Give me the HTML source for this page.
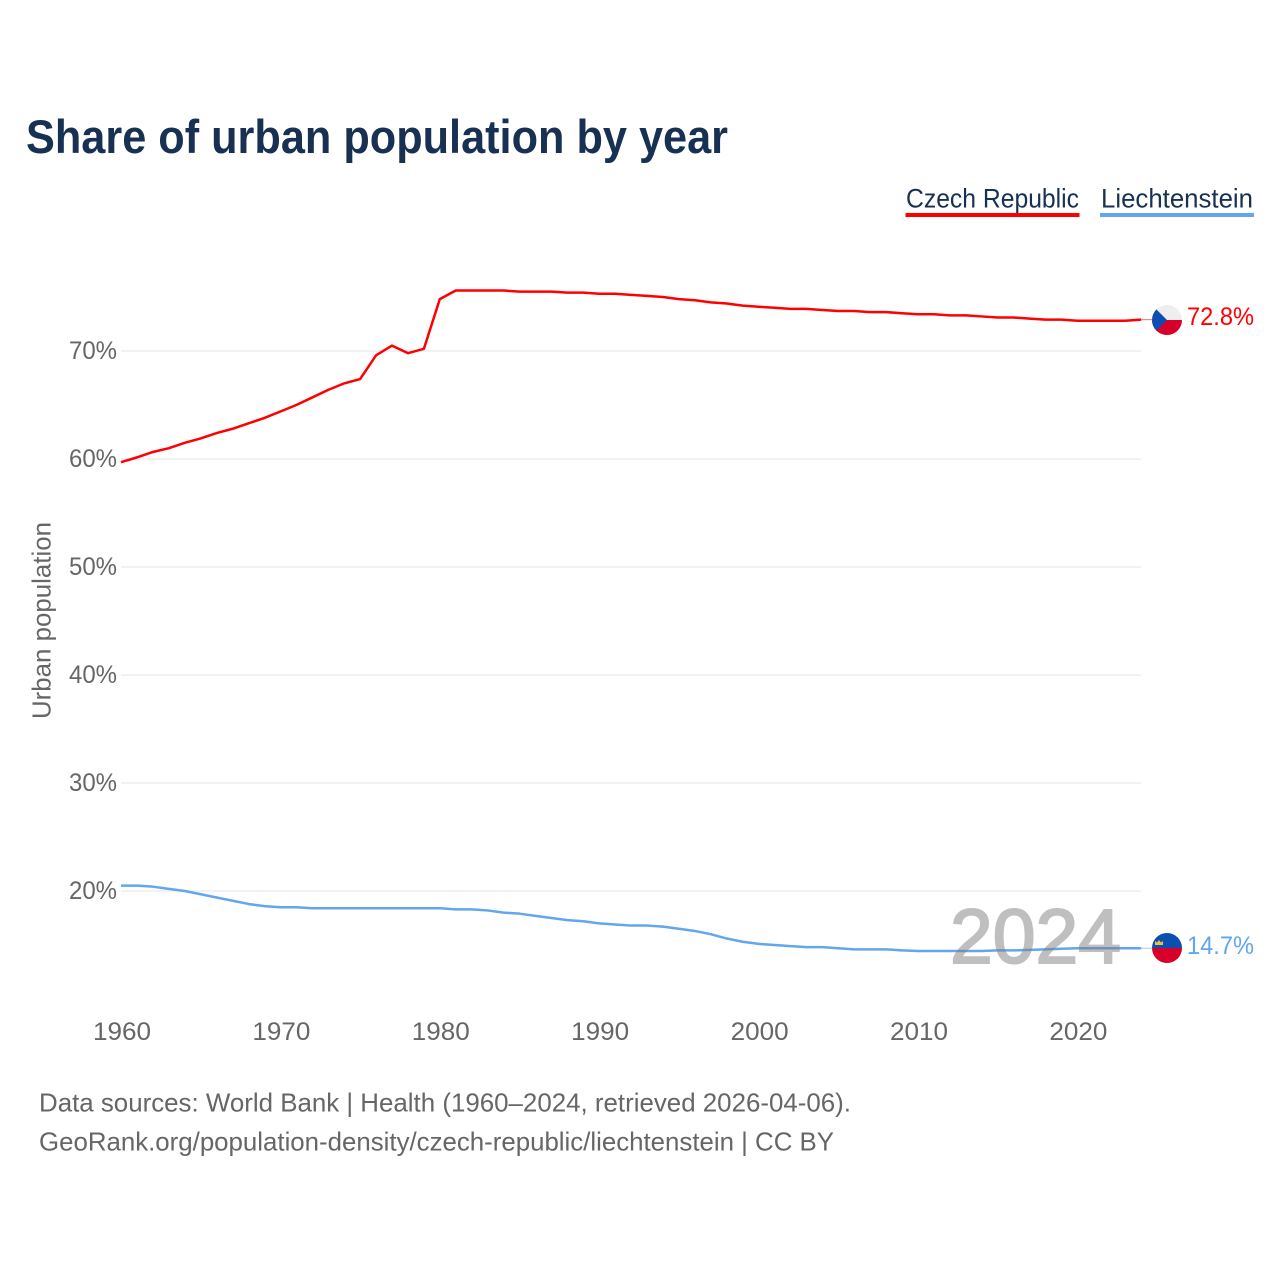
<!DOCTYPE html>
<html lang="en">
<head>
<meta charset="utf-8">
<title>Share of urban population by year</title>
<style>
html,body{margin:0;padding:0;background:#fff;width:1280px;height:1280px;overflow:hidden}
svg{display:block}
text{font-family:"Liberation Sans",sans-serif}
</style>
</head>
<body>
<svg id="chart" xmlns="http://www.w3.org/2000/svg" width="1280" height="1280" viewBox="0 0 1280 1280">
  <defs>
    <clipPath id="clip-cz"><circle cx="1167" cy="320" r="15"/></clipPath>
    <clipPath id="clip-li"><circle cx="1167" cy="948" r="15"/></clipPath>
  </defs>
  <text x="26" y="153" font-size="47" font-weight="700" fill="#183153" textLength="702" lengthAdjust="spacingAndGlyphs">Share of urban population by year</text>

  <g>
    <text x="906" y="207.500" font-size="27" fill="#183153" textLength="173" lengthAdjust="spacingAndGlyphs">Czech Republic</text>
    <rect x="905.5" y="213" width="174" height="4" fill="#ff0000"/>
  </g>
  <g>
    <text x="1101" y="207.500" font-size="27" fill="#183153" textLength="152" lengthAdjust="spacingAndGlyphs">Liechtenstein</text>
    <rect x="1100" y="213" width="154" height="4" fill="#62a6ee"/>
  </g>

  <text transform="translate(50.500,719) rotate(-90)" x="0" y="0" font-size="26" fill="#666666" textLength="197" lengthAdjust="spacingAndGlyphs">Urban population</text>

  <g id="grid"></g>
  <g id="y-ticks"></g>
  <g id="x-ticks"></g>
  <g id="series"></g>

  <text x="950" y="963" font-size="77" fill="#808080" stroke="#808080" stroke-width="2" opacity="0.5" textLength="171" lengthAdjust="spacingAndGlyphs">2024</text>

  <g clip-path="url(#clip-cz)">
    <rect x="1152" y="305" width="30" height="15" fill="#eeeeee"/>
    <rect x="1152" y="320" width="30" height="15" fill="#d7002a"/>
    <polygon points="1152,305 1167,320 1152,335" fill="#0b4fb3"/>
  </g>
  <g clip-path="url(#clip-li)">
    <rect x="1152" y="933" width="30" height="15" fill="#0b4fb3"/>
    <rect x="1152" y="948" width="30" height="15" fill="#d7002a"/>
    <path d="M1155 945v-4l2 1.500 2-2.500 2 2.500 2-1.500v4z" fill="#f2c230"/>
  </g>
  <text id="label-cz" x="1187" y="325" font-size="25" fill="#ff0000" textLength="67" lengthAdjust="spacingAndGlyphs"></text>
  <text id="label-li" x="1187" y="954" font-size="25" fill="#62a6ee" textLength="67" lengthAdjust="spacingAndGlyphs"></text>

  <text x="39" y="1111.500" font-size="26" fill="#666666" textLength="812" lengthAdjust="spacingAndGlyphs">Data sources: World Bank | Health (1960–2024, retrieved 2026-04-06).</text>
  <text x="39" y="1150.500" font-size="26" fill="#666666" textLength="795" lengthAdjust="spacingAndGlyphs">GeoRank.org/population-density/czech-republic/liechtenstein | CC BY</text>
</svg>
<script>
const firstYear = 1960;
const czechRepublic = [59.7,60.15,60.65,61.0,61.5,61.9,62.4,62.8,63.3,63.8,64.4,65.0,65.7,66.4,67.0,67.4,69.6,70.5,69.8,70.2,74.8,75.6,75.6,75.6,75.6,75.5,75.5,75.5,75.4,75.4,75.3,75.3,75.2,75.1,75.0,74.8,74.7,74.5,74.4,74.2,74.1,74.0,73.9,73.9,73.8,73.7,73.7,73.6,73.6,73.5,73.4,73.4,73.3,73.3,73.2,73.1,73.1,73.0,72.9,72.9,72.8,72.8,72.8,72.8,72.9];
const liechtenstein = [20.5,20.5,20.4,20.2,20.0,19.7,19.4,19.1,18.8,18.6,18.5,18.5,18.4,18.4,18.4,18.4,18.4,18.4,18.4,18.4,18.4,18.3,18.3,18.2,18.0,17.9,17.7,17.5,17.3,17.2,17.0,16.9,16.8,16.8,16.7,16.5,16.3,16.0,15.6,15.3,15.1,15.0,14.9,14.8,14.8,14.7,14.6,14.6,14.6,14.5,14.45,14.45,14.45,14.45,14.45,14.5,14.5,14.55,14.6,14.65,14.7,14.7,14.7,14.7,14.7];
const yTickValues = [20,30,40,50,60,70];
const xTickYears = [1960,1970,1980,1990,2000,2010,2020];
const endLabelCzech = "72.8%";
const endLabelLiechtenstein = "14.7%";

const NS = "http://www.w3.org/2000/svg";
function xScale(year){ return 121 + (year - 1960) * 15.94; }
function yScale(v){ return 891 - (v - 20) * 10.8; }
function make(tag, attrs, parent){
  const el = document.createElementNS(NS, tag);
  for (const k in attrs) el.setAttribute(k, attrs[k]);
  parent.appendChild(el);
  return el;
}
const grid = document.getElementById("grid");
const yTicks = document.getElementById("y-ticks");
const xTicks = document.getElementById("x-ticks");
const series = document.getElementById("series");

yTickValues.forEach(function(v){
  const line = make("line", {x1:121, x2:1141, y1:yScale(v), y2:yScale(v), stroke:"#eeeeee", "stroke-width":1.5}, grid);
  
  
  const t = make("text", {x:117, y:yScale(v)+8, "text-anchor":"end", "font-size":25, fill:"#666666", textLength:48, lengthAdjust:"spacingAndGlyphs"}, yTicks);
  
  
  t.textContent = v + "%";
});
xTickYears.forEach(function(y){
  const t = make("text", {x:xScale(y)+1, y:1040, "text-anchor":"middle", "font-size":25, fill:"#666666", textLength:58, lengthAdjust:"spacingAndGlyphs"}, xTicks);
  
  
  t.textContent = y;
});

function drawSeries(values, color, name){
  const pts = values.map(function(v, i){ return xScale(firstYear + i).toFixed(2) + "," + yScale(v).toFixed(2); }).join(" ");
  const p = make("polyline", {points:pts, fill:"none", stroke:color, "stroke-width":2.5, "stroke-linejoin":"round"}, series);
  
  
  const last = values[values.length - 1];
  const c = make("line", {x1:xScale(firstYear + values.length - 1), x2:1152, y1:yScale(last), y2:yScale(last), stroke:color, "stroke-width":1, "stroke-opacity":0.6}, series);
  
  
}
drawSeries(czechRepublic, "#ff0000", "line-czech-republic");
drawSeries(liechtenstein, "#62a6ee", "line-liechtenstein");

document.getElementById("label-cz").textContent = endLabelCzech;
document.getElementById("label-li").textContent = endLabelLiechtenstein;
</script>
</body>
</html>
